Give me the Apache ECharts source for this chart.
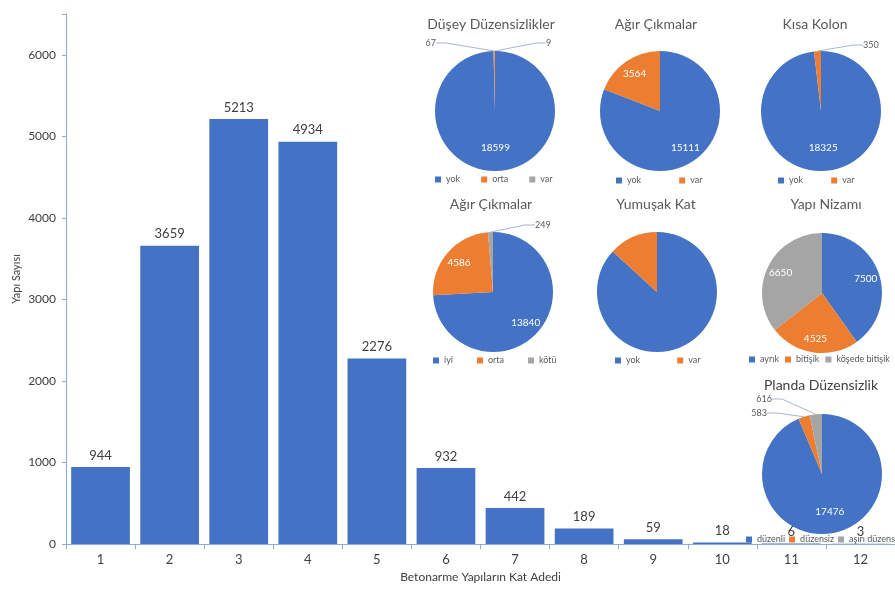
<!DOCTYPE html>
<html>
<head>
<meta charset="utf-8">
<script src="https://cdn.jsdelivr.net/npm/echarts@6/dist/echarts.min.js"></script>
<style>
  html, body { margin: 0; padding: 0; background: #fff; }
  #chart { width: 895px; height: 591px; }
</style>
</head>
<body>
<div id="chart"></div>
<script>
// Storey counts of reinforced-concrete buildings
const katAdedi = ['1', '2', '3', '4', '5', '6', '7', '8', '9', '10', '11', '12'];
const yapiSayisi = [944, 3659, 5213, 4934, 2276, 932, 442, 189, 59, 18, 6, 3];

// Irregularity breakdowns (each pie sums to the building total)
const duseyNames = ['yok', 'orta', 'var'];
const duseyValues = [18599, 67, 9];
const agirCikma1Names = ['yok', 'var'];
const agirCikma1Values = [15111, 3564];
const kisaKolonNames = ['yok', 'var'];
const kisaKolonValues = [18325, 350];
const agirCikma2Names = ['iyi', 'orta', 'kötü'];
const agirCikma2Values = [13840, 4586, 249];
const yumusakKatNames = ['yok', 'var'];
const yumusakKatValues = [16205, 2470];
const nizamNames = ['ayrık', 'bitişik', 'köşede bitişik'];
const nizamValues = [7500, 4525, 6650];
const plandaNames = ['düzenli', 'düzensiz', 'aşırı düzensiz'];
const plandaValues = [17476, 583, 616];

const BLUE = '#4472C4', ORANGE = '#ED7D31', GRAY = '#A5A5A5';
const FONT = 'Lato, "Noto Sans", sans-serif';

// Panel layout for the small pies
const pies = [
  { title: 'Düşey Düzensizlikler', names: duseyNames, values: duseyValues, colors: [BLUE, ORANGE, GRAY],
    cx: 495, cy: 111, titleX: 491, titleY: 12, legendX: 435, legendY: 175, legendGap: 21, push: 4,
    outer: { 1: [436, 43, 'right'], 2: [546, 43, 'left'] } },
  { title: 'Ağır Çıkmalar', names: agirCikma1Names, values: agirCikma1Values, colors: [BLUE, ORANGE],
    cx: 660, cy: 111, titleX: 656, titleY: 12, legendX: 616, legendY: 176, legendGap: 38, push: 12 },
  { title: 'Kısa Kolon', names: kisaKolonNames, values: kisaKolonValues, colors: [BLUE, ORANGE],
    cx: 821, cy: 111, titleX: 815, titleY: 12, legendX: 778, legendY: 176, legendGap: 28, push: 4,
    outer: { 1: [863, 45, 'left'] } },
  { title: 'Ağır Çıkmalar', names: agirCikma2Names, values: agirCikma2Values, colors: [BLUE, ORANGE, GRAY],
    cx: 493, cy: 292, titleX: 491, titleY: 192, legendX: 433, legendY: 356, legendGap: 24, push: 12,
    outer: { 2: [535, 225, 'left'] } },
  { title: 'Yumuşak Kat', names: yumusakKatNames, values: yumusakKatValues, colors: [BLUE, ORANGE],
    cx: 657, cy: 292, titleX: 656, titleY: 192, legendX: 615, legendY: 356, legendGap: 37, push: 12, noLabels: true },
  { title: 'Yapı Nizamı', names: nizamNames, values: nizamValues, colors: [BLUE, ORANGE, GRAY],
    cx: 822, cy: 293, titleX: 826, titleY: 192, legendX: 749, legendY: 355, legendGap: 6, push: 13 },
  { title: 'Planda Düzensizlik', names: plandaNames, values: plandaValues, colors: [BLUE, ORANGE, GRAY],
    cx: 822, cy: 474, titleX: 821, titleY: 373, legendX: 746, legendY: 535, legendGap: 4, push: 6, titleColor: '#404040',
    outer: { 1: [767, 413, 'right'], 2: [772, 399, 'right'] } }
];

// Bisector angle (radians, clockwise from 12 o'clock) of a slice
function midAngle(values, idx) {
  const total = values.reduce((a, b) => a + b, 0);
  let before = 0;
  for (let i = 0; i < idx; i++) before += values[i];
  return (before + values[idx] / 2) / total * Math.PI * 2;
}

// Title padding is 5px, so shift the anchor back by it
const titles = pies.map(p => ({
  text: p.title,
  left: p.titleX - 5, top: p.titleY, textAlign: 'center',
  textStyle: { fontFamily: FONT, fontSize: 14, fontWeight: 'normal', color: p.titleColor || '#595959' }
}));

const legends = pies.map(p => ({
  left: p.legendX, top: p.legendY, width: 220, orient: 'horizontal',
  itemWidth: 6, itemHeight: 6, itemGap: p.legendGap, icon: 'rect',
  selectedMode: false, padding: 0,
  textStyle: { fontFamily: FONT, fontSize: 9, color: '#595959' },
  data: p.names.map((n, i) => ({ name: n, itemStyle: { color: p.colors[i] } }))
}));

const pieSeries = pies.map(p => ({
  type: 'pie',
  z: 2,
  radius: 60,
  center: [p.cx, p.cy],
  startAngle: 90,
  clockwise: true,
  silent: true,
  animation: false,
  itemStyle: { borderWidth: 0 },
  label: {
    show: !p.noLabels, position: 'inside', color: '#fff',
    fontFamily: FONT, fontSize: 10, formatter: '{c}'
  },
  labelLine: { show: true, length: 8, length2: 10, lineStyle: { color: '#A9B7CB', width: 1 } },
  labelLayout: function (params) {
    const spec = pies[params.seriesIndex - 1];
    const pos = spec.outer && spec.outer[params.dataIndex];
    if (pos) {
      return { x: pos[0], y: pos[1], align: pos[2], verticalAlign: 'middle' };
    }
    const a = midAngle(spec.values, params.dataIndex);
    return { dx: spec.push * Math.sin(a), dy: -spec.push * Math.cos(a) };
  },
  data: p.values.map((v, i) => {
    const item = { name: p.names[i], value: v, itemStyle: { color: p.colors[i] } };
    if (p.outer && p.outer[i]) {
      item.label = { position: 'outside', color: '#595959', fontSize: 9 };
    }
    return item;
  })
}));

const chart = echarts.init(document.getElementById('chart'), null, { renderer: 'canvas' });
chart.setOption({
  backgroundColor: '#fff',
  animation: false,
  textStyle: { fontFamily: FONT },
  title: titles,
  legend: legends,
  grid: { left: 66, right: 0, top: 14, bottom: 47, containLabel: false },
  xAxis: {
    type: 'category',
    data: katAdedi,
    boundaryGap: true,
    name: 'Betonarme Yapıların Kat Adedi',
    nameLocation: 'middle',
    nameGap: 27,
    nameMoveOverlap: false,
    nameTextStyle: { fontFamily: FONT, fontSize: 12, color: '#404040' },
    axisLine: { lineStyle: { color: '#8FAADC', width: 1 } },
    axisTick: { show: true, length: 5, lineStyle: { color: '#8FAADC' } },
    axisLabel: { fontFamily: FONT, fontSize: 13, color: '#404040', margin: 9 }
  },
  yAxis: {
    type: 'value',
    min: 0, max: 6500, interval: 1000,
    name: 'Yapı Sayısı',
    nameLocation: 'middle',
    nameGap: 44,
    nameMoveOverlap: false,
    nameRotate: 90,
    nameTextStyle: { fontFamily: FONT, fontSize: 11, color: '#404040' },
    axisLine: { show: true, lineStyle: { color: '#8FAADC', width: 1 } },
    axisTick: { show: true, length: 4, lineStyle: { color: '#8FAADC' } },
    splitLine: { show: false },
    axisLabel: {
      fontFamily: FONT, fontSize: 12, color: '#404040', margin: 10,
      formatter: v => (v % 1000 === 0 ? String(v) : '')
    }
  },
  series: [{
    type: 'bar',
    z: 5,
    data: yapiSayisi,
    barCategoryGap: '15%',
    itemStyle: { color: BLUE },
    label: { show: true, position: 'top', distance: 5, fontFamily: FONT, fontSize: 13, color: '#404040' }
  }].concat(pieSeries)
});
</script>
</body>
</html>
